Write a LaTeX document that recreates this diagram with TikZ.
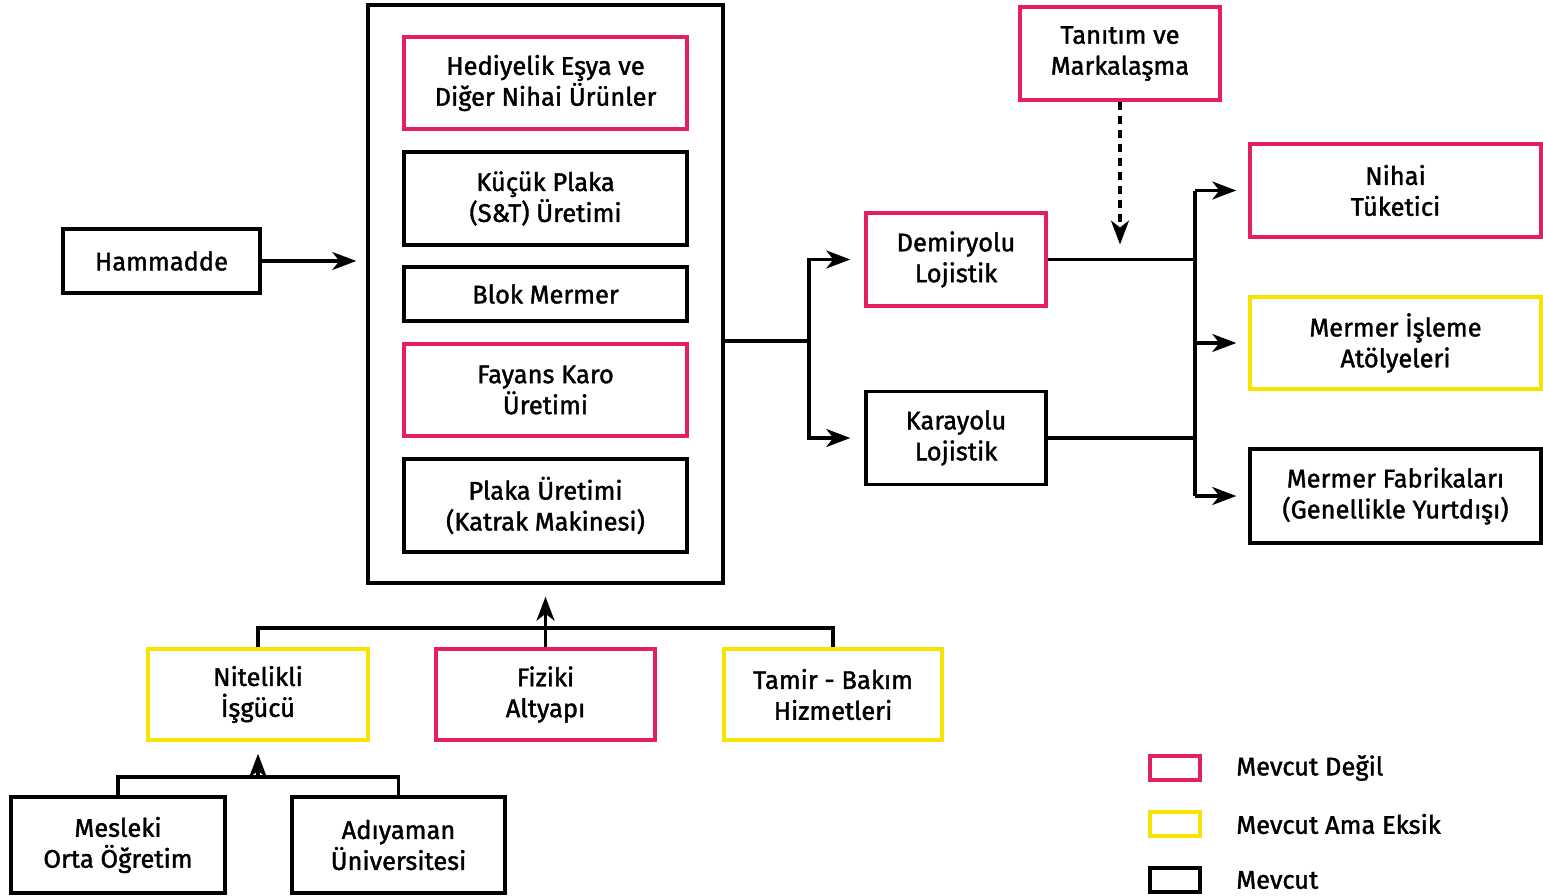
\documentclass[tikz,border=0pt]{standalone}
\usepackage{fontspec}
\setmainfont{Fira Sans}[FakeBold=1.5]
\usetikzlibrary{arrows.meta}
\definecolor{yokrenk}{RGB}{226,32,98}
\definecolor{eksikrenk}{RGB}{246,228,0}
\begin{document}
\begin{tikzpicture}[x=0.02cm, y=-0.02cm,
  kutu/.style={draw=black, line width=2pt, align=center, inner sep=0pt,
    font=\fontsize{14.5}{17.6}\selectfont},
  yok/.style={kutu, draw=yokrenk},
  eksik/.style={kutu, draw=eksikrenk},
  boyut/.style 2 args={minimum width=#1, minimum height=#2},
  hat/.style={line width=1.8pt},
  ok/.style={hat, -{Stealth[length=0.48cm, width=0.36cm, inset=0.14cm]}}]
\useasboundingbox (0,0) rectangle (1543,896);

% uretim zinciri
\draw (545.5,294) node (urun) [kutu, boyut={7.1cm}{11.56cm}] {};
\draw (545.5,83)    node (hediye) [yok, boyut={5.66cm}{1.84cm}]  {Hediyelik Eşya ve\\Diğer Nihai Ürünler};
\draw (545.5,198.5) node (kucuk)  [kutu, boyut={5.66cm}{1.86cm}] {Küçük Plaka\\(S\&T) Üretimi};
\draw (545.5,294)   node (blok)   [kutu, boyut={5.66cm}{1.08cm}] {Blok Mermer};
\draw (545.5,390)   node (fayans) [yok, boyut={5.66cm}{1.84cm}]  {Fayans Karo\\Üretimi};
\draw (545.5,505.5) node (plaka)  [kutu, boyut={5.66cm}{1.86cm}] {Plaka Üretimi\\(Katrak Makinesi)};

\draw (161.5,261) node (hammadde) [kutu, boyut={3.94cm}{1.28cm}] {Hammadde};
\draw[ok, shorten >=0.2cm] (hammadde) -- (urun.west |- hammadde);

% lojistik
\draw (956,259.5) node (demir) [yok, boyut={3.6cm}{1.86cm}]  {Demiryolu\\Lojistik};
\draw (956,438)   node (kara)  [kutu, boyut={3.6cm}{1.86cm}] {Karayolu\\Lojistik};
\draw (1120,53.5) node (tanitim) [yok, boyut={4.0cm}{1.86cm}] {Tanıtım ve\\Markalaşma};

\coordinate (ayrim) at (809,341);
\draw[ok, shorten >=0.28cm] (urun.east |- ayrim) -- (ayrim) |- (demir.west);
\draw[ok, shorten >=0.28cm] (ayrim) |- (kara.west);
\draw[ok, dashed, dash pattern=on 0.16cm off 0.12cm, shorten >=0.3cm] (tanitim.south) -- (tanitim.south |- demir);

% pazarlar
\draw (1395.5,190.5) node (nihai)   [yok, boyut={5.82cm}{1.86cm}]   {Nihai\\Tüketici};
\draw (1395.5,343)   node (atolye)  [eksik, boyut={5.82cm}{1.84cm}] {Mermer İşleme\\Atölyeleri};
\draw (1395.5,496)   node (fabrika) [kutu, boyut={5.82cm}{1.88cm}]  {Mermer Fabrikaları\\(Genellikle Yurtdışı)};

\coordinate (dagit) at (1195,343);
\draw[hat] (demir.east) -- (demir.east -| dagit);
\draw[hat] (kara.east) -- (kara.east -| dagit);
\draw[hat] (nihai.west -| dagit) -- (fabrika.west -| dagit);
\draw[ok, shorten >=0.24cm] (nihai.west -| dagit) -- (nihai.west);
\draw[ok, shorten >=0.24cm] (dagit) -- (atolye.west);
\draw[ok, shorten >=0.24cm] (fabrika.west -| dagit) -- (fabrika.west);

% destekler
\draw (258,694.5) node (isgucu) [eksik, boyut={4.4cm}{1.82cm}] {Nitelikli\\İşgücü};
\draw (545.5,694.5) node (fiziki) [yok, boyut={4.38cm}{1.82cm}] {Fiziki\\Altyapı};
\draw (833,694.5) node (tamir) [eksik, boyut={4.36cm}{1.82cm}] {Tamir - Bakım\\Hizmetleri};
\coordinate (destek) at (545.5,628);
\draw[hat] (isgucu.north) |- (destek) -| (tamir.north);
\draw[ok, shorten >=0.24cm] (fiziki.north) -- (urun.south);

\draw (118,845) node (mesleki) [kutu, boyut={4.28cm}{1.92cm}] {Mesleki\\Orta Öğretim};
\draw (398.5,845) node (universite) [kutu, boyut={4.26cm}{1.92cm}] {Adıyaman\\Üniversitesi};
\coordinate (egitim) at (258,777);
\draw[hat] (mesleki.north) |- (egitim) -| (universite.north);
\draw[ok, shorten >=0.24cm] (egitim) -- (isgucu.south);

% lejant
\draw (1175,768) node (l1) [yok, boyut={1.0cm}{0.48cm}] {};
\draw (1175,824) node (l2) [eksik, boyut={1.0cm}{0.48cm}] {};
\draw (1175,880) node (l3) [kutu, boyut={1.0cm}{0.48cm}] {};
\draw (1236,768) node (t1) [anchor=west, inner sep=0pt, font=\fontsize{14.5}{17.6}\selectfont] {Mevcut Değil};
\draw (1236,824) node (t2) [anchor=west, inner sep=0pt, font=\fontsize{14.5}{17.6}\selectfont] {Mevcut Ama Eksik};
\draw (1236,880) node (t3) [anchor=west, inner sep=0pt, font=\fontsize{14.5}{17.6}\selectfont] {Mevcut};
\end{tikzpicture}
\end{document}
